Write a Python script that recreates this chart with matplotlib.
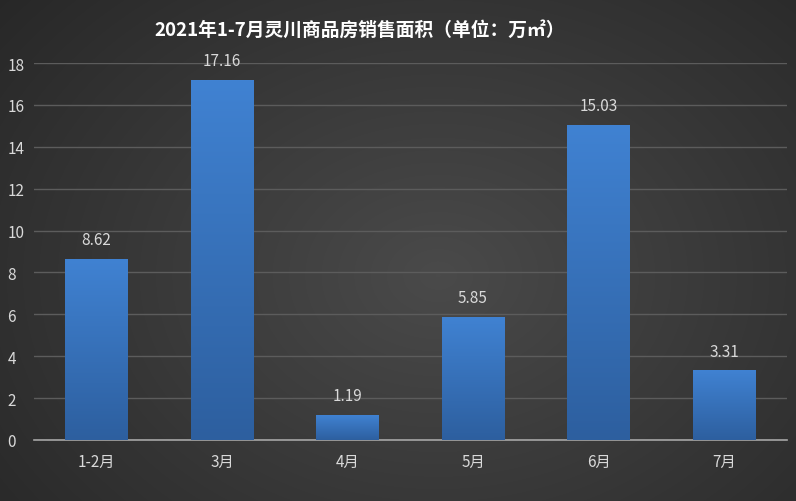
import numpy as np
import matplotlib
matplotlib.use("Agg")
import matplotlib.pyplot as plt
from matplotlib.colors import LinearSegmentedColormap

plt.rcParams['font.family'] = ['Noto Sans CJK SC', 'DejaVu Sans']

categories = ['1-2月', '3月', '4月', '5月', '6月', '7月']
values = [8.62, 17.16, 1.19, 5.85, 15.03, 3.31]
value_labels = ['8.62', '17.16', '1.19', '5.85', '15.03', '3.31']
yticks = [0, 2, 4, 6, 8, 10, 12, 14, 16, 18]
title = '2021年1-7月灵川商品房销售面积（单位：万㎡）'

W, H = 796, 502
fig = plt.figure(figsize=(W / 100, H / 100), dpi=100)

# radial gradient background
bg = fig.add_axes([0, 0, 1, 1], zorder=0)
yy, xx = np.mgrid[0:H, 0:W]
cx, cy = W * 0.55, H * 0.55
r = np.sqrt(((xx - cx) / (W * 0.75)) ** 2 + ((yy - cy) / (H * 0.9)) ** 2)
r = np.clip(r, 0, 1)
bg_cmap = LinearSegmentedColormap.from_list('bg', ['#4a4a4a', '#262626'])
bg.imshow(r, cmap=bg_cmap, aspect='auto', extent=[0, 1, 0, 1], vmin=0, vmax=1)
bg.axis('off')

left = 33.75 / W
right = 786.75 / W
bottom = 1 - 441 / H
top = 1 - 64 / H
ax = fig.add_axes([left, bottom, right - left, top - bottom], zorder=1)
ax.set_facecolor('none')
ax.patch.set_alpha(0)

x = np.arange(len(categories))
bars = ax.bar(x, values, width=0.5, color='none', zorder=3)

bar_cmap = LinearSegmentedColormap.from_list('bar', ['#2d5f9f', '#4082d2'])
grad = np.linspace(0, 1, 256).reshape(-1, 1)
for b in bars:
    bx, by = b.get_x(), b.get_y()
    bw, bh = b.get_width(), b.get_height()
    ax.imshow(grad, cmap=bar_cmap, aspect='auto', origin='lower',
              extent=[bx, bx + bw, by, by + bh], zorder=3)
ax.set_xlim(-0.5, len(categories) - 0.5)
ax.set_ylim(0, 18)

for xi, v, lab in zip(x, values, value_labels):
    ax.annotate(lab, (xi, v), xytext=(0, 8), textcoords='offset points',
                ha='center', va='bottom', color='#d9d9d9', fontsize=11)

ax.set_yticks(yticks)
ax.set_yticklabels([str(t) for t in yticks], ha='left')
ax.set_xticks(x)
ax.set_xticklabels(categories)
ax.grid(axis='y', color='#5c5c5c', linewidth=1, zorder=1)
ax.set_axisbelow(True)
for s in ['top', 'right', 'left']:
    ax.spines[s].set_visible(False)
ax.spines['bottom'].set_color('#a6a6a6')
ax.spines['bottom'].set_linewidth(1.2)
ax.tick_params(axis='both', length=0, colors='#d9d9d9', labelsize=11)
ax.tick_params(axis='x', pad=9)
ax.tick_params(axis='y', pad=19)

fig.text(360 / W, 1 - 30 / H, title, ha='center', va='center',
         color='white', fontsize=13.5, fontweight='bold')

fig.savefig('out.png', dpi=100)
